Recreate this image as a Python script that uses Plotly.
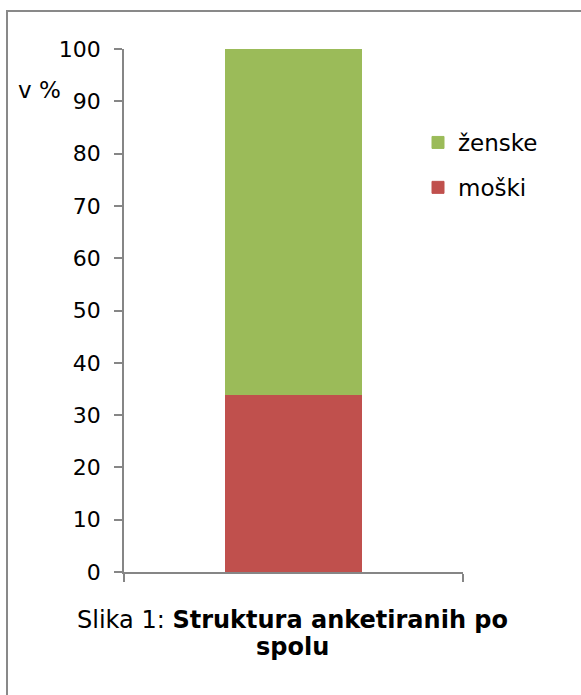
import plotly.graph_objects as go

# data
categories = ["spol"]
moski = [34]
zenske = [66]
series_names = ["moški", "ženske"]
series_colors = ["#C0504D", "#9BBB59"]
legend_ranks = [2, 1]
y_ticks = list(range(0, 101, 10))

W, H = 581, 695
L, R, T, B = 124, 118, 49, 123
pw = W - L - R
ph = H - T - B

def px_x(x):
    return (x - L) / pw

def px_y(y):
    return (H - B - y) / ph

font_family = "Verdana, DejaVu Sans, sans-serif"

fig = go.Figure()
for name, vals, col, rank in zip(series_names, [moski, zenske], series_colors, legend_ranks):
    fig.add_trace(go.Bar(
        x=categories, y=vals, name=name, width=0.4,
        legendgroup=name, legendrank=rank,
        marker=dict(color=col, line=dict(color=col, width=1)),
    ))

fig.update_layout(
    barmode="stack",
    width=W, height=H,
    margin=dict(l=L, r=R, t=T, b=B),
    plot_bgcolor="white", paper_bgcolor="white",
    font=dict(family=font_family, size=22, color="black"),
    legend=dict(
        x=px_x(418), y=px_y(121), xanchor="left", yanchor="top",
        traceorder="grouped", tracegroupgap=12,
        font=dict(size=23), bgcolor="rgba(0,0,0,0)",
    ),
)

fig.update_yaxes(
    range=[0, 100], tickvals=y_ticks, showgrid=False, zeroline=False,
    showline=True, linecolor="#868686", linewidth=1.5,
    ticks="outside", ticklen=8, tickcolor="#868686", tickwidth=1.5,
    ticklabelstandoff=9,
)
fig.update_xaxes(
    range=[-0.5, 0.5], showticklabels=False, showgrid=False, zeroline=False,
    showline=True, linecolor="#868686", linewidth=1.5,
    ticks="outside", ticklen=8, tickcolor="#868686", tickwidth=1.5,
    tickson="boundaries",
)

# outer frame (partly cropped at the right and bottom)
fig.add_shape(type="rect", xref="paper", yref="paper",
              x0=px_x(7), x1=px_x(590), y0=px_y(705), y1=px_y(11),
              line=dict(color="#898989", width=2), layer="below")

fig.add_annotation(text="v %", xref="paper", yref="paper",
                   x=px_x(16), y=px_y(90), xanchor="left", yanchor="middle",
                   showarrow=False, font=dict(size=23))
fig.add_annotation(text="Slika 1: <b>Struktura anketiranih po</b>",
                   xref="paper", yref="paper",
                   x=px_x(292), y=px_y(620), xanchor="center", yanchor="middle",
                   showarrow=False, font=dict(size=24))
fig.add_annotation(text="<b>spolu</b>", xref="paper", yref="paper",
                   x=px_x(292), y=px_y(647), xanchor="center", yanchor="middle",
                   showarrow=False, font=dict(size=24))

fig.write_html("out.html", config={"displayModeBar": False},
               post_script="document.body.style.margin='0';")
